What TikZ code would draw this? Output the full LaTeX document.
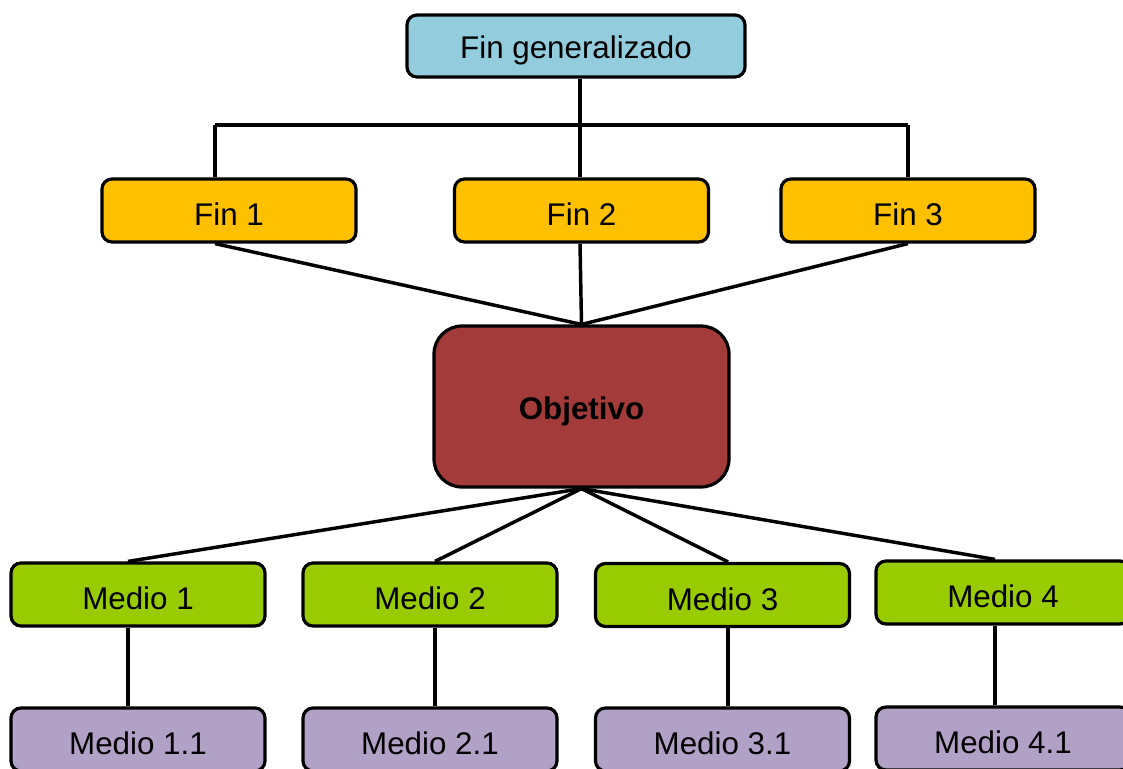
\documentclass[tikz,border=0pt]{standalone}
\usepackage{fontspec}
\setmainfont{Liberation Sans}
\definecolor{cblue}{HTML}{93CDDD}
\definecolor{corange}{HTML}{FFC000}
\definecolor{cred}{HTML}{A33B3A}
\definecolor{cgreen}{HTML}{99CC00}
\definecolor{cpurple}{HTML}{B2A1C7}
\tikzset{
  box/.style={draw=black, line width=2.4pt, rounded corners=7.5pt, inner sep=0pt,
    minimum width=190.5pt, minimum height=47.25pt, text height=23pt, text depth=0pt,
    font=\fontsize{23.5}{28}\selectfont},
  conn/.style={draw=black, line width=2.6pt},
}
\begin{document}
\begin{tikzpicture}[x=0.75pt,y=-0.75pt]
\clip (0,0) rectangle (1123,768);
\useasboundingbox (0,0) rectangle (1123,768);
% nodes
\node[box, fill=cblue, minimum width=253.5pt, minimum height=46.5pt, text height=19pt] (fg) at (576,46) {Fin generalizado};
\node[box, fill=corange] (f1) at (229,210.5) {Fin 1};
\node[box, fill=corange] (f2) at (581.5,210.5) {Fin 2};
\node[box, fill=corange] (f3) at (908,210.5) {Fin 3};
\node[box, fill=cred, minimum width=221.25pt, minimum height=120.75pt, rounded corners=21pt, text height=20pt, font=\fontsize{23.5}{28}\selectfont\bfseries] (obj) at (581.5,406.5) {Objetivo};
\node[box, fill=cgreen] (m1) at (138,594.5) {Medio 1};
\node[box, fill=cgreen] (m2) at (430,594.5) {Medio 2};
\node[box, fill=cgreen] (m3) at (722.5,595) {Medio 3};
\node[box, fill=cgreen] (m4) at (1003,592.5) {Medio 4};
\node[box, fill=cpurple] (m11) at (138,739.5) {Medio 1.1};
\node[box, fill=cpurple] (m21) at (430,739.5) {Medio 2.1};
\node[box, fill=cpurple] (m31) at (722.5,739.5) {Medio 3.1};
\node[box, fill=cpurple] (m41) at (1003,738.5) {Medio 4.1};
% bus coordinates
\coordinate (busL) at (215,125);
\coordinate (busC) at (580,125);
\coordinate (busR) at (908,125);
% top tree
\draw[conn] (fg.south -| busC) -- (busC);
\draw[conn] (busL) -- (busR);
\draw[conn] (busL) -- (busL |- f1.north);
\draw[conn] (busC) -- (busC |- f2.north);
\draw[conn] (busR) -- (busR |- f3.north);
% fins to objective
\draw[conn] (f1.south -| busL) -- (obj.north);
\draw[conn] (f2.south -| busC) -- (obj.north);
\draw[conn] (f3.south -| busR) -- (obj.north);
% objective to medios
\draw[conn] (obj.south) -- ([xshift=-7.5pt]m1.north);
\draw[conn] (obj.south) -- ([xshift=3.75pt]m2.north);
\draw[conn] (obj.south) -- ([xshift=4.1pt]m3.north);
\draw[conn] (obj.south) -- ([xshift=-6pt]m4.north);
% medios to sub-medios
\draw[conn] ([xshift=-7.5pt]m1.south) -- ([xshift=-7.5pt]m11.north);
\draw[conn] ([xshift=3.75pt]m2.south) -- ([xshift=3.75pt]m21.north);
\draw[conn] ([xshift=4.1pt]m3.south) -- ([xshift=4.1pt]m31.north);
\draw[conn] ([xshift=-6pt]m4.south) -- ([xshift=-6pt]m41.north);
\end{tikzpicture}
\end{document}
